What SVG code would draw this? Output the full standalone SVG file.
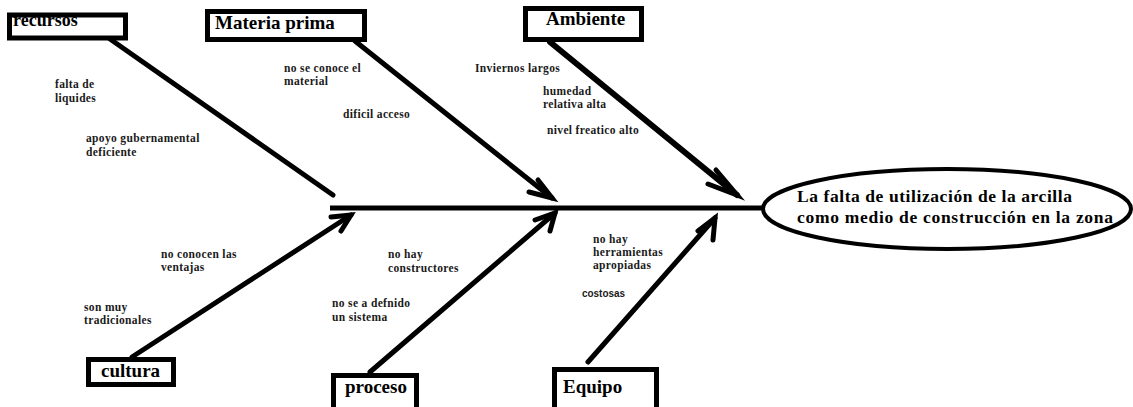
<svg xmlns="http://www.w3.org/2000/svg" width="1133" height="407" viewBox="0 0 1133 407">
<style>
.box{fill:#fff;stroke:#000;stroke-width:5}
.bt{font-family:"Liberation Serif",serif;font-weight:bold;font-size:19px;fill:#000}
.lb{font-family:"Liberation Serif",serif;font-weight:bold;font-size:11.5px;letter-spacing:0.35px;fill:#1a1a1a}
.ln{stroke:#000;stroke-width:5;fill:none;stroke-linecap:round;stroke-linejoin:round}
.ah{stroke:#000;stroke-width:5;fill:none;stroke-linecap:round;stroke-linejoin:miter}
</style>
<rect width="1133" height="407" fill="#fff"/>
<g id="connectors">
<line class="ln" x1="330" y1="208" x2="763" y2="208" style="stroke-linecap:butt"/>
<line class="ln" x1="110" y1="39" x2="333" y2="195"/>
<line class="ln" x1="355" y1="41" x2="552" y2="198"/>
<polyline class="ah" points="538,180 552,198 529,192"/>
<line class="ln" x1="550" y1="42" x2="737" y2="195" style="stroke-width:6"/>
<polyline class="ah" points="716,170 737,195 708,184"/>
<line class="ln" x1="132" y1="357" x2="351" y2="215"/>
<polyline class="ah" points="331,217 351,215 341,231"/>
<line class="ln" x1="370" y1="372" x2="555" y2="213"/>
<polyline class="ah" points="535,220 555,213 550,231"/>
<line class="ln" x1="588" y1="362" x2="715" y2="218"/>
<polyline class="ah" points="698,231 715,218 713,240"/>
</g>
<g id="effect">
<ellipse cx="947" cy="209" rx="184" ry="40" fill="#fff" stroke="#000" stroke-width="4"/>
<text class="bt" style="font-size:17.5px" x="797" y="202" textLength="275" lengthAdjust="spacing">La falta de utilización de la arcilla</text>
<text class="bt" style="font-size:17.5px" x="797" y="223" textLength="316" lengthAdjust="spacing">como medio de construcción en la zona</text>
</g>
<g id="recursos">
<rect class="box" x="9.5" y="15" width="116" height="23"/>
<text class="bt" style="font-size:18px" x="13" y="26">recursos</text>
<text class="lb" x="55" y="88">falta de</text>
<text class="lb" x="55" y="102">liquides</text>
<text class="lb" x="86" y="142">apoyo gubernamental</text>
<text class="lb" x="86" y="156">deficiente</text>
</g>
<g id="materia">
<rect class="box" x="207.5" y="11.5" width="157" height="28"/>
<text class="bt" x="215" y="29">Materia prima</text>
<text class="lb" x="284" y="72">no se conoce el</text>
<text class="lb" x="284" y="85">material</text>
<text class="lb" x="343" y="118">dificil acceso</text>
</g>
<g id="ambiente">
<rect class="box" x="525.5" y="8.5" width="116" height="31"/>
<text class="bt" x="546" y="25">Ambiente</text>
<text class="lb" x="475" y="72">Inviernos largos</text>
<text class="lb" x="543" y="95">humedad</text>
<text class="lb" x="543" y="108">relativa alta</text>
<text class="lb" x="547" y="134">nivel freatico alto</text>
</g>
<g id="cultura">
<rect class="box" x="88.5" y="359.5" width="85" height="25"/>
<text class="bt" x="101" y="377">cultura</text>
<text class="lb" x="161" y="258">no conocen las</text>
<text class="lb" x="161" y="271">ventajas</text>
<text class="lb" x="84" y="311">son muy</text>
<text class="lb" x="84" y="324">tradicionales</text>
</g>
<g id="proceso">
<rect class="box" x="333.5" y="375.5" width="83" height="40"/>
<text class="bt" x="345" y="393">proceso</text>
<text class="lb" x="388" y="258">no hay</text>
<text class="lb" x="388" y="272">constructores</text>
<text class="lb" x="332" y="307">no se a defnido</text>
<text class="lb" x="332" y="321">un sistema</text>
</g>
<g id="equipo">
<rect class="box" x="554.5" y="369.5" width="102" height="40"/>
<text class="bt" x="563" y="393">Equipo</text>
<text class="lb" x="593" y="243">no hay</text>
<text class="lb" x="593" y="256">herramientas</text>
<text class="lb" x="593" y="269">apropiadas</text>
<text x="582" y="297" font-family="'Liberation Sans',sans-serif" font-weight="bold" font-size="11.5" fill="#1a1a1a" textLength="43" lengthAdjust="spacingAndGlyphs">costosas</text>
</g>
</svg>
